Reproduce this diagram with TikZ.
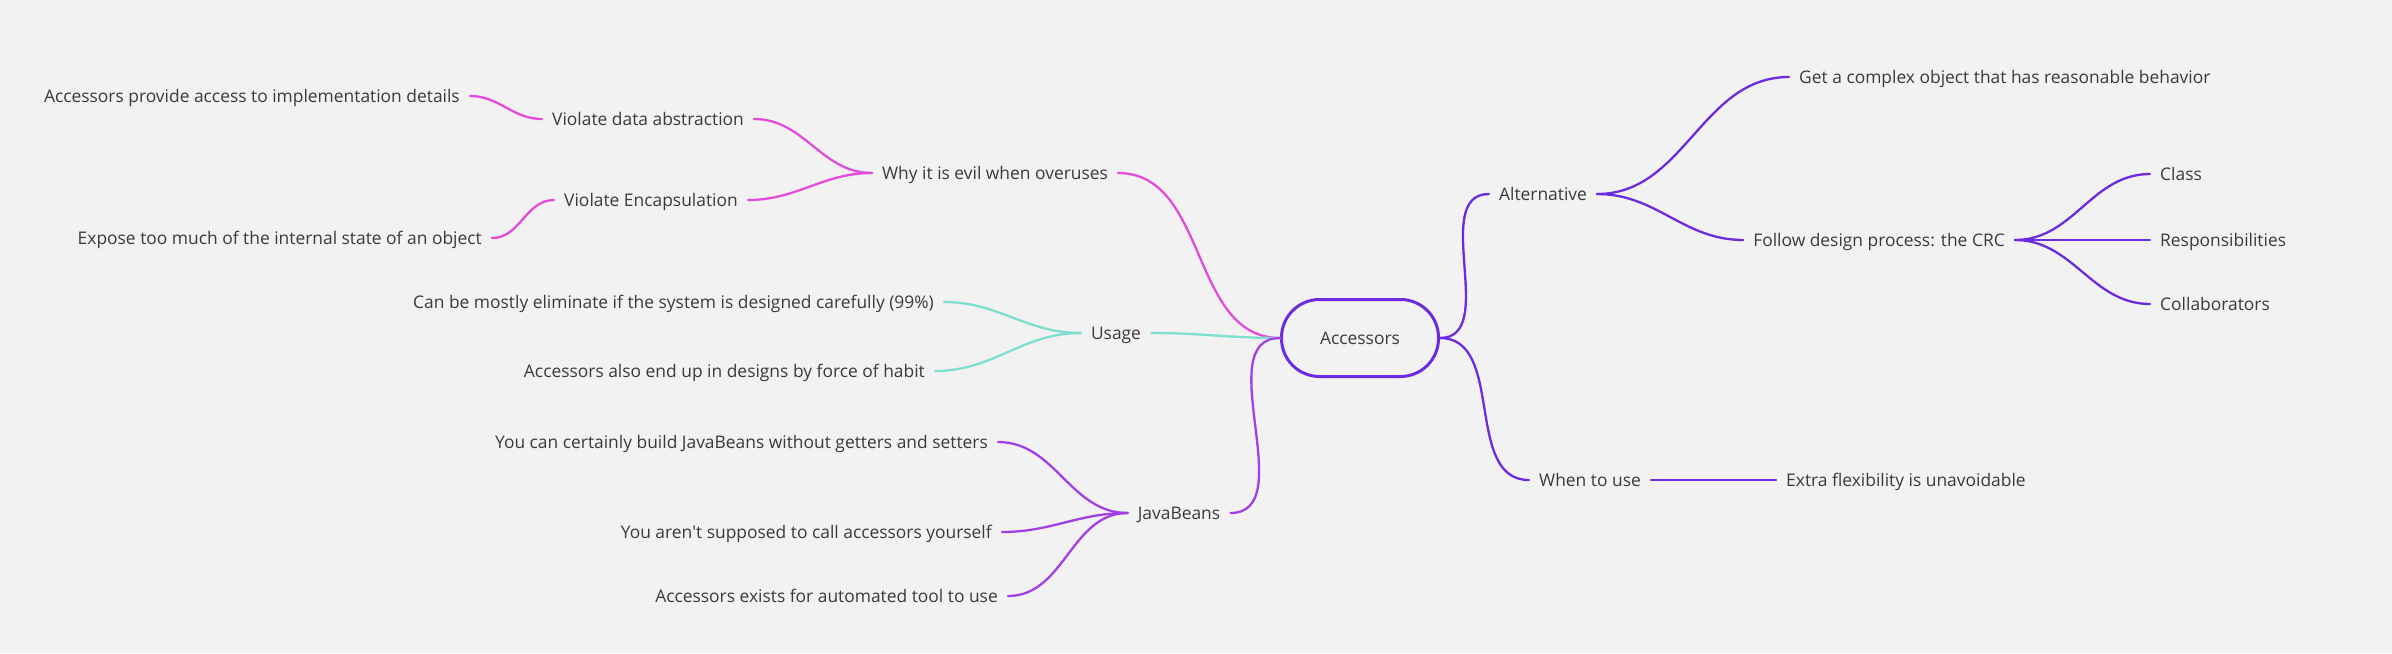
\documentclass[tikz,border=0pt]{standalone}
\usepackage{fontspec}
\setmainfont{Open Sans}
\usepackage{xcolor}
\usepackage{tikz}
\usetikzlibrary{positioning,calc}

\definecolor{bgcol}{HTML}{F2F2F2}
\definecolor{txtcol}{HTML}{3A3A3A}
\definecolor{pinkc}{HTML}{E34BDA}
\definecolor{tealc}{HTML}{7EDFCE}
\definecolor{violc}{HTML}{A23FE6}
\definecolor{purpc}{HTML}{6B2BE0}

\begin{document}
\begin{tikzpicture}[x=1pt,y=-1pt,
  topic/.style={text=txtcol, font=\fontsize{17.4}{20}\selectfont, inner xsep=10pt, inner ysep=2pt, text height=12.5pt, text depth=0pt},
  root/.style={topic, draw=purpc, line width=3pt, rounded corners=38pt, minimum width=157pt, minimum height=77pt},
  link/.style={line width=2.3pt, line cap=round, out=0, in=180}]
  \fill[bgcol] (0,0) rectangle (2392,653);
  \useasboundingbox (0,0) rectangle (2392,653);

  % Root
  \node[root] (acc) at (1360,338) {Accessors};

  % Why it is evil
  \node[topic] (why) at (995,173) {Why it is evil when overuses};
  \node[topic] (va) at (648,119) {Violate data abstraction};
  \node[topic] (ve) at (651,200) {Violate Encapsulation};
  \node[topic, anchor=east] (ap) at (470,96) {Accessors provide access to implementation details};
  \node[topic, anchor=east] (ex) at (492,238) {Expose too much of the internal state of an object};
  \draw[link, pinkc] (why.east) to (acc.west);
  \draw[link, pinkc] (va.east) to (why.west);
  \draw[link, pinkc] (ve.east) to (why.west);
  \draw[link, pinkc] (ap.east) to (va.west);
  \draw[link, pinkc] (ex.east) to (ve.west);

  % Usage
  \node[topic] (usage) at (1116,333) {Usage};
  \node[topic, anchor=east] (cb) at (944,302) {Can be mostly eliminate if the system is designed carefully (99\%)};
  \node[topic, anchor=east] (ah) at (935,371) {Accessors also end up in designs by force of habit};
  \draw[link, tealc] (usage.east) to (acc.west);
  \draw[link, tealc] (cb.east) to (usage.west);
  \draw[link, tealc] (ah.east) to (usage.west);

  % JavaBeans
  \node[topic] (jb) at (1179,513) {JavaBeans};
  \node[topic, anchor=east] (yc) at (998,442) {You can certainly build JavaBeans without getters and setters};
  \node[topic, anchor=east] (ya) at (1002,532) {You aren\textquotesingle t supposed to call accessors yourself};
  \node[topic, anchor=east] (ae) at (1008,596) {Accessors exists for automated tool to use};
  \draw[link, violc] (jb.east) to (acc.west);
  \draw[link, violc] (yc.east) to (jb.west);
  \draw[link, violc] (ya.east) to (jb.west);
  \draw[link, violc] (ae.east) to (jb.west);

  % Alternative
  \node[topic] (alt) at (1543,194) {Alternative};
  \node[topic, anchor=west] (gc) at (1789,77) {Get a complex object that has reasonable behavior};
  \node[topic] (fd) at (1879,240) {Follow design process: the CRC};
  \node[topic, anchor=west] (cls) at (2150,174) {Class};
  \node[topic, anchor=west] (resp) at (2150,240) {Responsibilities};
  \node[topic, anchor=west] (coll) at (2150,304) {Collaborators};
  \draw[link, purpc] (acc.east) to (alt.west);
  \draw[link, purpc] (alt.east) to (gc.west);
  \draw[link, purpc] (alt.east) to (fd.west);
  \draw[link, purpc] (fd.east) to (cls.west);
  \draw[link, purpc] (fd.east) to (resp.west);
  \draw[link, purpc] (fd.east) to (coll.west);

  % When to use
  \node[topic] (when) at (1590,480) {When to use};
  \node[topic, anchor=west] (ext) at (1776,480) {Extra flexibility is unavoidable};
  \draw[link, purpc] (acc.east) to (when.west);
  \draw[link, purpc] (when.east) to (ext.west);
\end{tikzpicture}
\end{document}
